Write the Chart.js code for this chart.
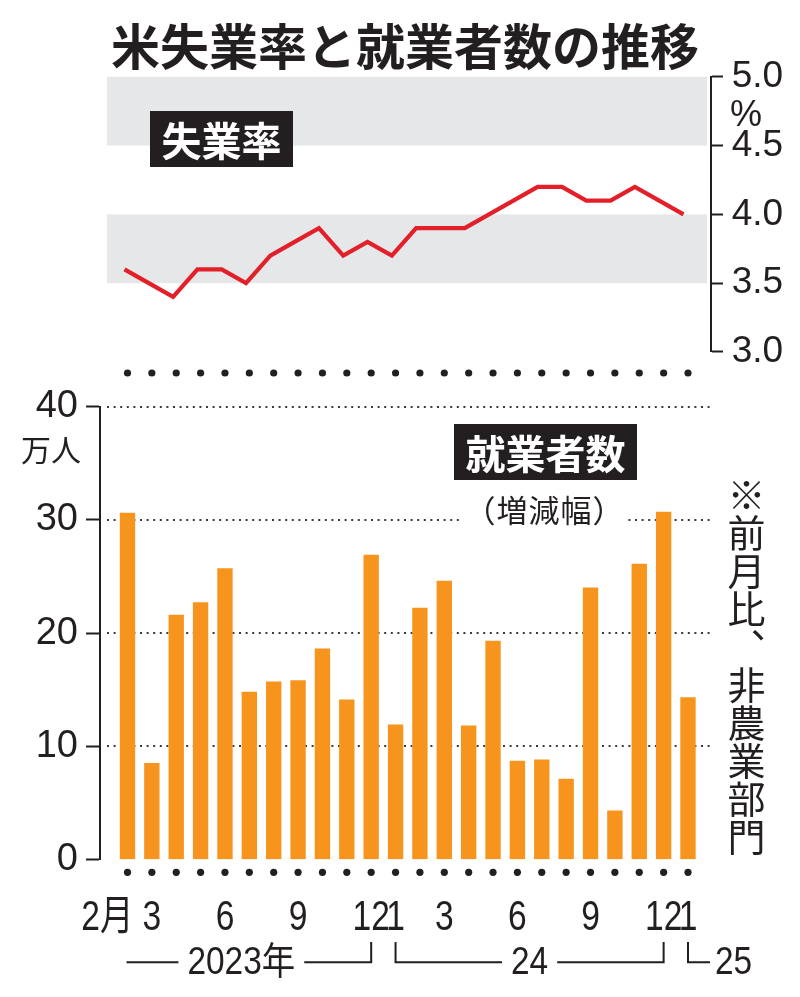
<!DOCTYPE html>
<html><head><meta charset="utf-8">
<script src="https://cdn.jsdelivr.net/npm/chart.js@4.4.0/dist/chart.umd.min.js"></script>
<style>
html,body{margin:0;padding:0;background:#fff;}
#wrap{position:relative;width:800px;height:997px;overflow:hidden;background:#fff;}
canvas{position:absolute;left:0;top:0;}
.t{position:absolute;white-space:nowrap;color:#231F20;font-family:"Noto Sans CJK JP","Noto Sans",sans-serif;line-height:1;}
.box{background:#231F20;color:#fff;font-weight:700;font-size:40px;display:flex;align-items:center;justify-content:center;}
</style></head><body>
<div id="wrap">
<canvas id="bar" width="800" height="997" style="width:800px;height:997px"></canvas>
<canvas id="line" width="800" height="997" style="width:800px;height:997px"></canvas>
<div class="t" style="left:111px;top:19px;font-size:49px;font-weight:700;">米失業率と就業者数の推移</div>
<div class="t box" style="left:150px;top:111px;width:143px;height:56px;">失業率</div>
<div class="t box" style="left:454px;top:424px;width:183px;height:56px;">就業者数</div>
<div class="t" style="left:462px;top:493px;width:165px;height:32px;line-height:32px;font-size:31px;letter-spacing:1px;text-align:center;background:#fff;">（増減幅）</div>
<div class="t" style="left:727px;top:476px;font-size:38px;writing-mode:vertical-rl;">※前月比、非農業部門</div>
<div class="t" style="left:21px;top:433px;font-size:30px;">万人</div>
<div class="t" style="left:730px;top:96px;font-size:36px;font-family:'Liberation Sans',sans-serif;">%</div>
</div>
<script>
// ---- data ----
const months = ["2月","3","","","6","","","9","","","12","1","","3","","","6","","","9","","","12","1"];
const unemployment = [3.6,3.5,3.4,3.6,3.6,3.5,3.7,3.8,3.9,3.7,3.8,3.7,3.9,3.9,3.9,4.0,4.1,4.2,4.2,4.1,4.1,4.2,4.1,4.0];
const payrolls = [30.6,8.5,21.6,22.7,25.7,14.8,15.7,15.8,18.6,14.1,26.9,11.9,22.2,24.6,11.8,19.3,8.7,8.8,7.1,24.0,4.3,26.1,30.7,14.3];
const rateTicks = [3.0,3.5,4.0,4.5,5.0];
const payrollTicks = [0,10,20,30,40];
const rateBands = [[3.5,4.0],[4.5,5.0]];
const years = ["2023年","24","25"];
const yearStart = [0,11,23];
const yearEnd = [10,22,23];

const INK = '#231F20';
const ORANGE = '#F7941E';
const RED = '#E3202A';
const BAND = '#E6E7E8';

// ---- bar chart plugins ----
const gridPlugin = {
  id:'dotGrid',
  beforeDatasetsDraw(chart){
    const {ctx, chartArea, scales:{y}} = chart;
    ctx.save();
    ctx.strokeStyle = '#3a3a3a';
    ctx.lineWidth = 2;
    ctx.setLineDash([2,4.6]);
    payrollTicks.forEach(v=>{
      if(v===0) return;
      const py = Math.round(y.getPixelForValue(v));
      ctx.beginPath();
      ctx.moveTo(107, py);
      ctx.lineTo(chartArea.right, py);
      ctx.stroke();
    });
    ctx.restore();
  }
};

const decoPlugin = {
  id:'deco',
  afterDraw(chart){
    const {ctx, scales:{x}} = chart;
    ctx.save();
    ctx.fillStyle = INK;
    // dot rows
    for(let i=0;i<months.length;i++){
      const px = x.getPixelForValue(i);
      [373, 872.3].forEach(py=>{
        ctx.beginPath(); ctx.arc(px, py, 3.6, 0, Math.PI*2); ctx.fill();
      });
    }
    // month labels
    ctx.font = '42px "Liberation Sans", "Noto Sans CJK JP", sans-serif';
    ctx.textBaseline = 'alphabetic';
    months.forEach((m,i)=>{
      if(!m) return;
      const px = x.getPixelForValue(i);
      ctx.save();
      if(i===0){ ctx.translate(px+6, 930); ctx.textAlign='right'; }
      else { ctx.translate(px, 930); ctx.textAlign='center'; }
      ctx.scale(0.8,1);
      ctx.fillText(m,0,0);
      ctx.restore();
    });
    // year brackets
    ctx.strokeStyle = INK;
    ctx.lineWidth = 2;
    ctx.font = '38px "Liberation Sans", "Noto Sans CJK JP", sans-serif';
    const sx = 0.88, lineY = 962.3, tickTop = 942, base = 974;
    years.forEach((label,g)=>{
      const x0 = x.getPixelForValue(yearStart[g]);
      const x1 = x.getPixelForValue(yearEnd[g]);
      const w = ctx.measureText(label).width*sx;
      ctx.beginPath();
      if(yearStart[g]===yearEnd[g]){
        ctx.moveTo(x0, tickTop); ctx.lineTo(x0, lineY); ctx.lineTo(x0+22, lineY);
        ctx.stroke();
        ctx.save(); ctx.translate(x0+27, base); ctx.scale(sx,1); ctx.textAlign='left'; ctx.fillText(label,0,0); ctx.restore();
      } else {
        const mid = (x0+x1)/2 - (yearStart[g]===0 ? 8 : 0);
        const l = yearStart[g]===0 ? x0-1 : x0;
        if(yearStart[g]!==0){ ctx.moveTo(x0, tickTop); ctx.lineTo(x0, lineY); }
        else ctx.moveTo(l, lineY);
        ctx.lineTo(mid - w/2 - 9, lineY);
        ctx.moveTo(mid + w/2 + 9, lineY);
        ctx.lineTo(x1, lineY); ctx.lineTo(x1, tickTop);
        ctx.stroke();
        ctx.save(); ctx.translate(mid, base); ctx.scale(sx,1); ctx.textAlign='center'; ctx.fillText(label,0,0); ctx.restore();
      }
    });
    ctx.restore();
  }
};

new Chart(document.getElementById('bar'), {
  type:'bar',
  data:{datasets:[{
    data: payrolls.map((v,i)=>({x:i,y:v})),
    backgroundColor: ORANGE, borderWidth:0, barThickness:14.7
  }]},
  options:{
    responsive:false, animation:false, devicePixelRatio:1,
    layout:{padding:{top:406.7, bottom:997-859.5, left:0, right:800-711}},
    plugins:{legend:{display:false}, tooltip:{enabled:false}},
    scales:{
      x:{type:'linear', min:-1.128, max:23.944, offset:false, display:false, grid:{offset:false}},
      y:{
        min:0, max:40,
        afterBuildTicks: s=>{ s.ticks = payrollTicks.map(v=>({value:v})); },
        afterFit: s=>{ s.width = 100; },
        grid:{drawOnChartArea:false, drawTicks:true, tickLength:14, tickColor:INK, tickWidth:2},
        border:{display:true, color:INK, width:2},
        ticks:{font:{family:'Liberation Sans', size:38}, color:INK, padding:8}
      }
    }
  },
  plugins:[gridPlugin, decoPlugin]
});

// ---- line chart ----
const bandPlugin = {
  id:'bands',
  beforeDatasetsDraw(chart){
    const {ctx, chartArea, scales:{y}} = chart;
    ctx.save();
    ctx.fillStyle = BAND;
    rateBands.forEach(([a,b])=>{
      const top = y.getPixelForValue(b), bot = y.getPixelForValue(a);
      ctx.fillRect(chartArea.left, top, chartArea.right - 4 - chartArea.left, bot-top);
    });
    ctx.restore();
  }
};

new Chart(document.getElementById('line'), {
  type:'line',
  data:{datasets:[{
    data: unemployment.map((v,i)=>({x:i,y:v})),
    borderColor: RED, borderWidth:4.2, pointRadius:0, tension:0, fill:false,
    borderJoinStyle:'miter', borderCapStyle:'butt'
  }]},
  options:{
    responsive:false, animation:false, devicePixelRatio:1,
    layout:{padding:{top:76.7, bottom:997-352, left:107, right:0}},
    plugins:{legend:{display:false}, tooltip:{enabled:false}},
    scales:{
      x:{type:'linear', min:-0.72, max:24.132, offset:false, display:false},
      y:{
        position:'right', min:3, max:5,
        afterBuildTicks: s=>{ s.ticks = rateTicks.map(v=>({value:v})); },
        afterFit: s=>{ s.width = 89; },
        grid:{drawOnChartArea:false, drawTicks:true, tickLength:12, tickColor:INK, tickWidth:2},
        border:{display:true, color:INK, width:2},
        ticks:{font:{family:'Liberation Sans', size:37}, color:INK, padding:8.7, callback:v=>Number(v).toFixed(1)}
      }
    }
  },
  plugins:[bandPlugin]
});
</script>
</body></html>
